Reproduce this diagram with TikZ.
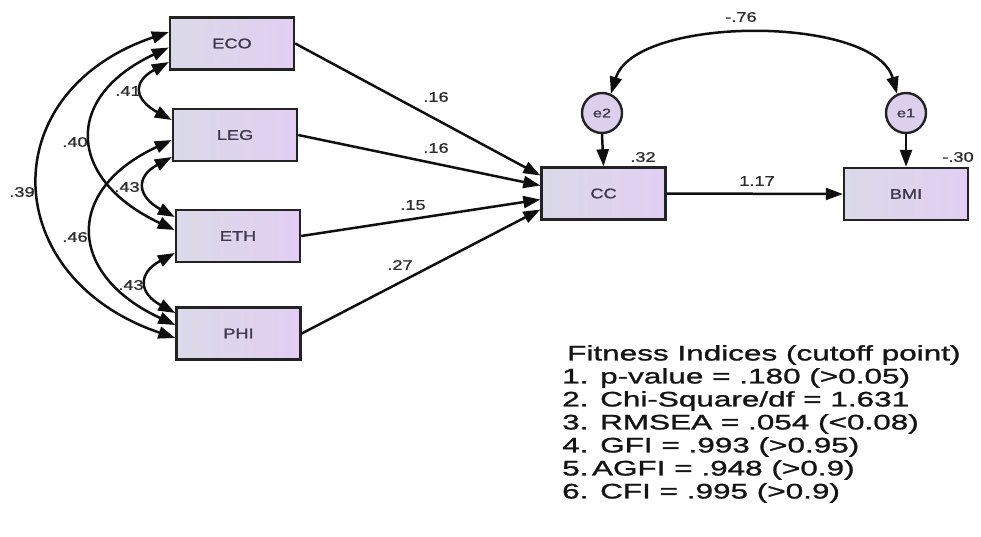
\documentclass[tikz,border=0pt]{standalone}
\usepackage{fontspec}
\setmainfont{Liberation Sans}
\newfontfamily\labfont[FakeStretch=1.3,FakeBold=1]{Liberation Sans}
\newfontfamily\boxfont[FakeStretch=1.3,FakeBold=1.4]{Liberation Sans}
\newfontfamily\fitfont[FakeStretch=1.5,FakeBold=1.3]{Liberation Sans}
\usetikzlibrary{arrows.meta}
\definecolor{boxl}{RGB}{218,218,232}
\definecolor{boxr}{RGB}{226,206,242}
\definecolor{circf}{RGB}{220,208,236}
\definecolor{linec}{RGB}{35,35,35}
\definecolor{arrc}{RGB}{15,15,15}
\definecolor{boxtxt}{RGB}{62,56,76}
\definecolor{labc}{RGB}{45,45,45}
\definecolor{fitc}{RGB}{20,20,20}
\tikzset{
  var/.style={draw=linec, line width=2.4pt, left color=boxl, right color=boxr,
    minimum width=124pt, minimum height=52pt, inner sep=0pt,
    font=\boxfont\fontsize{14}{16}\selectfont, text=boxtxt},
  errc/.style={circle, draw=linec, line width=2.4pt, fill=circf, minimum size=40pt,
    inner sep=0pt, font=\labfont\fontsize{12.5}{14}\selectfont, text=boxtxt},
  lab/.style={font=\labfont\fontsize{14}{16}\selectfont, text=labc, inner sep=0pt},
  pathar/.style={line width=2.5pt, draw=arrc, -{Triangle[length=17pt,width=12pt]}},
  covar/.style={line width=2.5pt, draw=arrc, {Triangle[length=17pt,width=12pt]}-{Triangle[length=17pt,width=12pt]}}
}
\begin{document}
\begin{tikzpicture}[x=1pt,y=-1pt]
\useasboundingbox (0,0) rectangle (981,536);
% observed variables
\node[var] (eco) at (232,43.5) {ECO};
\node[var] (leg) at (235,135) {LEG};
\node[var] (eth) at (238,236) {ETH};
\node[var] (phi) at (238.5,333.5) {PHI};
\node[var] (cc)  at (603.5,193.5) {CC};
\node[var] (bmi) at (906,194) {BMI};
% error terms
\node[errc] (e2) at (602,113) {e2};
\node[errc] (e1) at (906,113) {e1};
% regression paths
\draw[pathar] (eco.east) -- ([yshift=18pt]cc.west);
\draw[pathar] (leg.east) -- ([yshift=8pt]cc.west);
\draw[pathar] (eth.east) -- ([yshift=-6pt]cc.west);
\draw[pathar] (phi.east) -- ([yshift=-16pt]cc.west);
\draw[pathar] (cc.east) -- (bmi.west);
\draw[pathar] (e2.south) -- (cc.north);
\draw[pathar] (e1.south) -- (bmi.north);
% covariances
\draw[covar] (e2.65) .. controls (635,15) and (875,15) .. (e1.115);
\draw[covar] ([yshift=-18.5pt]eco.west) .. controls +(-37,20) and +(-37,-20) .. ([yshift=15pt]leg.west);
\draw[covar] ([yshift=-22pt]leg.west) .. controls +(-37,20) and +(-37,-20) .. ([yshift=19pt]eth.west);
\draw[covar] ([yshift=-17pt]eth.west) .. controls +(-37,20) and +(-37,-20) .. ([yshift=20.5pt]phi.west);
\draw[covar] ([yshift=-4pt]eco.west) .. controls +(-107,50) and +(-107,-50) .. ([yshift=6pt]eth.west);
\draw[covar] ([yshift=-5pt]leg.west) .. controls +(-108,50) and +(-108,-50) .. ([yshift=8.5pt]phi.west);
\draw[covar] ([yshift=11.5pt]eco.west) .. controls +(-177,60) and +(-177,-60) .. ([yshift=-4.5pt]phi.west);
% labels
\node[lab] (l1) at (436,97) {.16};
\node[lab] (l2) at (436,148) {.16};
\node[lab] (l3) at (413,205) {.15};
\node[lab] (l4) at (400,265) {.27};
\node[lab] (l5) at (643,157) {.32};
\node[lab] (l6) at (958,157) {-.30};
\node[lab] (l7) at (757,181) {1.17};
\node[lab] (l8) at (741,17) {-.76};
\node[lab] (l9) at (128,91) {.41};
\node[lab] (l10) at (75,142) {.40};
\node[lab] (l11) at (127,187) {.43};
\node[lab] (l12) at (22,192) {.39};
\node[lab] (l13) at (75,237) {.46};
\node[lab] (l14) at (131,285) {.43};
% fitness indices
\node[anchor=north west, inner sep=0pt, align=left, text=fitc,
  font=\fitfont\fontsize{21}{23}\selectfont] (fit) at (562,345)
  {\hspace*{5pt}Fitness Indices (cutoff point)\\
   1. p-value = .180 (>0.05)\\
   2. Chi-Square/df = 1.631\\
   3. RMSEA = .054 (<0.08)\\
   4. GFI = .993 (>0.95)\\
   5.\,AGFI = .948 (>0.9)\\
   6. CFI = .995 (>0.9)};
\end{tikzpicture}
\end{document}
